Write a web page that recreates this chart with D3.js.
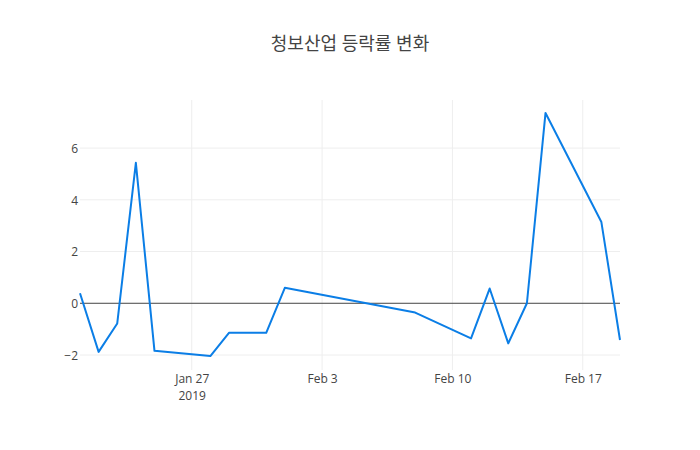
<!DOCTYPE html>
<html>
<head>
<meta charset="utf-8">
<script src="https://cdn.jsdelivr.net/npm/d3@7"></script>
<style>
	body { margin: 0; background: #fff; }
	svg text { font-family: "Open Sans", "Noto Sans CJK KR", sans-serif; fill: #444; }
</style>
</head>
<body>
<svg width="700" height="450"></svg>
<script>
// trading days and daily change rate (%)
var dates = ['2019-01-21', '2019-01-22', '2019-01-23', '2019-01-24', '2019-01-25',
	'2019-01-28', '2019-01-29', '2019-01-31', '2019-02-01', '2019-02-08',
	'2019-02-11', '2019-02-12', '2019-02-13', '2019-02-14', '2019-02-15',
	'2019-02-18', '2019-02-19'];
var rates = [0.39, -1.88, -0.78, 5.43, -1.84, -2.04, -1.14, -1.14, 0.6, -0.36,
	-1.36, 0.57, -1.55, 0.0, 7.36, 3.14, -1.42];
var yTicks = [-2, 0, 2, 4, 6];
var xTicks = ['2019-01-27', '2019-02-03', '2019-02-10', '2019-02-17'];
var title = '청보산업 등락률 변화';

var parse = d3.timeParse('%Y-%m-%d');
var data = dates.map(function(d, i) {
	return { date: parse(d), y: rates[i] };
});

var svg = d3.select('svg'),
	margin = { top: 100, right: 80, bottom: 80, left: 80 },
	width = +svg.attr('width') - margin.left - margin.right,
	height = +svg.attr('height') - margin.top - margin.bottom;

var x = d3.scaleTime()
	.domain(d3.extent(data, function(d) { return d.date; }))
	.range([0, width]);
var y = d3.scaleLinear().domain([-2.58, 7.86]).range([height, 0]);

var g = svg.append('g')
	.attr('transform', 'translate(' + margin.left + ',' + margin.top + ')');

// grid lines
g.append('g')
	.selectAll('line')
	.data(xTicks.map(parse))
	.enter().append('line')
	.attr('x1', function(d) { return x(d); })
	.attr('x2', function(d) { return x(d); })
	.attr('y1', 0)
	.attr('y2', height)
	.attr('stroke', '#eee');

g.append('g')
	.selectAll('line')
	.data(yTicks.filter(function(v) { return v !== 0; }))
	.enter().append('line')
	.attr('x1', 0)
	.attr('x2', width)
	.attr('y1', function(d) { return y(d); })
	.attr('y2', function(d) { return y(d); })
	.attr('stroke', '#eee');

// zero line
g.append('line')
	.attr('x1', 0)
	.attr('x2', width)
	.attr('y1', y(0))
	.attr('y2', y(0))
	.attr('stroke', '#444')
	.attr('stroke-width', 1);

// y axis labels
var yAxis = g.append('g')
	.call(d3.axisLeft(y).tickValues(yTicks).tickSize(0).tickPadding(2)
		.tickFormat(function(d) { return d < 0 ? '\u2212' + Math.abs(d) : d; }));
yAxis.select('.domain').remove();
yAxis.selectAll('text').style('font-size', '12px').attr('dy', '0.35em');

// x axis labels
var fmt = d3.timeFormat('%b %-d');
var xAxis = g.append('g')
	.attr('transform', 'translate(0,' + height + ')')
	.call(d3.axisBottom(x).tickValues(xTicks.map(parse)).tickSize(0).tickPadding(4)
		.tickFormat(fmt));
xAxis.select('.domain').remove();
xAxis.selectAll('text').style('font-size', '12px');
xAxis.selectAll('.tick').filter(function(d, i) { return i === 0; })
	.append('text')
	.attr('y', 21)
	.attr('dy', '0.71em')
	.attr('text-anchor', 'middle')
	.style('font-size', '12px')
	.text('2019');

// the line
var line = d3.line()
	.x(function(d) { return x(d.date); })
	.y(function(d) { return y(d.y); });

g.append('path')
	.datum(data)
	.attr('fill', 'none')
	.attr('stroke', '#0b7ee6')
	.attr('stroke-width', 2)
	.attr('stroke-linejoin', 'round')
	.attr('d', line);

svg.append('text')
	.attr('x', 350)
	.attr('y', 50)
	.attr('text-anchor', 'middle')
	.style('font-size', '18px')
	.text(title);
</script>
</body>
</html>
